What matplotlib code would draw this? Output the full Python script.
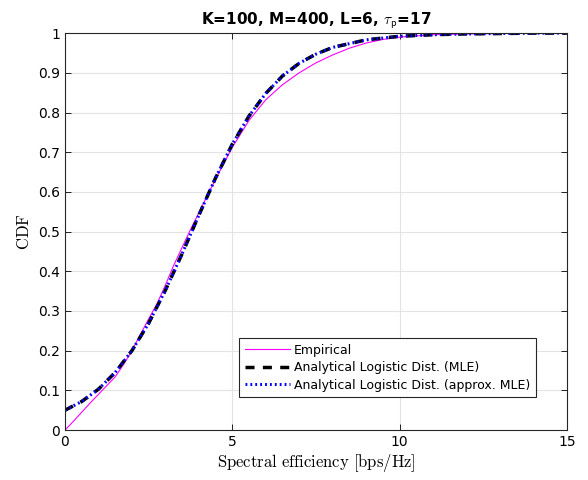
import matplotlib.pyplot as plt

plt.rcParams['mathtext.fontset'] = 'cm'

# ======================
# Data
# ======================
x_emp = [0, 0.25, 0.5, 0.75, 1, 1.25, 1.5, 1.75, 2, 2.25, 2.5, 2.75, 3, 3.25, 3.5,
         3.75, 4, 4.25, 4.5, 5, 5.5, 6, 6.5, 7, 7.5, 8, 8.5, 9, 9.5, 10, 11, 12, 13, 14, 15]
cdf_emp = [0, 0.022, 0.045, 0.068, 0.09, 0.112, 0.134, 0.165, 0.2, 0.24, 0.28, 0.318,
           0.365, 0.415, 0.46, 0.505, 0.547, 0.59, 0.632, 0.712, 0.78, 0.832, 0.87, 0.9,
           0.925, 0.945, 0.962, 0.975, 0.984, 0.99, 0.996, 0.998, 0.999, 1.0, 1.0]

x_ana = [0, 0.5, 1, 1.5, 2, 2.5, 3, 3.5, 4, 4.5, 5, 5.5, 6, 6.5, 7, 7.5, 8, 9, 10,
         11, 12, 13, 14, 15]
cdf_mle = [0.05, 0.072, 0.103, 0.145, 0.2, 0.269, 0.352, 0.444, 0.541, 0.635, 0.72,
           0.791, 0.848, 0.892, 0.924, 0.947, 0.964, 0.983, 0.992, 0.996, 0.998,
           0.999, 1.0, 1.0]
cdf_approx = [0.05, 0.072, 0.103, 0.145, 0.2, 0.269, 0.352, 0.444, 0.541, 0.635, 0.72,
              0.791, 0.848, 0.892, 0.924, 0.947, 0.964, 0.983, 0.992, 0.996, 0.998,
              0.999, 1.0, 1.0]

# ======================
# Plot
# ======================
fig = plt.figure(figsize=(5.88, 4.8), dpi=100)
ax = fig.add_axes([0.1105, 0.104, 0.8535, 0.827])

ax.plot(x_emp, cdf_emp, color='#ff00ff', lw=0.8, label='Empirical')
ax.plot(x_ana, cdf_mle, color='black', lw=2.5, ls=(0, (2.6, 2.4)),
        label='Analytical Logistic Dist. (MLE)')
ax.plot(x_ana, cdf_approx, color='blue', lw=2.2, ls=(0, (0.6, 1.0)),
        label='Analytical Logistic Dist. (approx. MLE)')

ax.set_xlim(0, 15)
ax.set_ylim(0, 1)
ax.set_xticks([0, 5, 10, 15])
ax.set_yticks([i / 10 for i in range(11)])
ax.set_yticklabels(['0', '0.1', '0.2', '0.3', '0.4', '0.5', '0.6', '0.7', '0.8', '0.9', '1'])
ax.tick_params(direction='in', top=True, right=True, labelsize=10, length=4, width=0.6)
ax.grid(True, color='#e3e3e3', lw=0.8)
ax.set_axisbelow(True)
for s in ax.spines.values():
    s.set_linewidth(0.8)
    s.set_color('#262626')

ax.set_xlabel(r'$\mathrm{Spectral\ efficiency\ [bps/Hz]}$', fontsize=12, labelpad=2)
ax.set_ylabel(r'$\mathrm{CDF}$', fontsize=12, labelpad=4)
ax.set_title(r'K=100, M=400, L=6, $\tau_{\mathsf{p}}$=17', fontsize=11,
             fontweight='bold', pad=6)

leg = ax.legend(loc='lower right', bbox_to_anchor=(0.938, 0.083), borderaxespad=0,
                fontsize=9, fancybox=False, framealpha=1, edgecolor='#262626',
                borderpad=0.45, labelspacing=0.35, handlelength=3.6, handletextpad=0.3)
leg.get_frame().set_linewidth(0.8)

plt.savefig('out.png', dpi=100)
